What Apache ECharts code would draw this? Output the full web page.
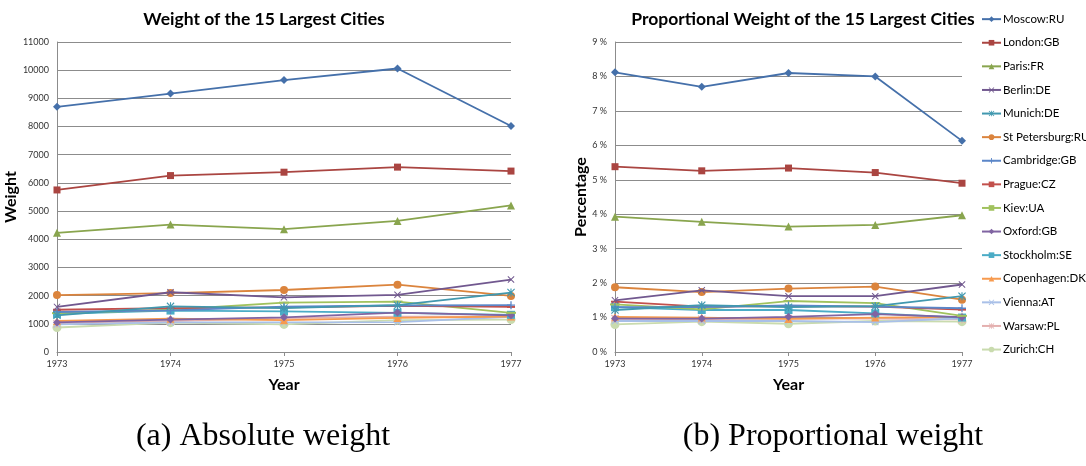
<!DOCTYPE html>
<html>
<head>
<meta charset="utf-8">
<script src="https://cdn.jsdelivr.net/npm/echarts@6/dist/echarts.min.js"></script>
<style>
html,body{margin:0;padding:0;background:#fff;}
#chart{width:1086px;height:466px;}
</style>
</head>
<body>
<div id="chart"></div>
<script>
// Years on the category axis
const years = ['1973', '1974', '1975', '1976', '1977'];

// City names (legend order)
const cities = ['Moscow:RU', 'London:GB', 'Paris:FR', 'Berlin:DE', 'Munich:DE', 'St Petersburg:RU',
  'Cambridge:GB', 'Prague:CZ', 'Kiev:UA', 'Oxford:GB', 'Stockholm:SE', 'Copenhagen:DK',
  'Vienna:AT', 'Warsaw:PL', 'Zurich:CH'];

// Absolute weight per city, 1973..1977
const weightMoscow     = [8700, 9170, 9650, 10060, 8020];
const weightLondon     = [5750, 6260, 6380, 6560, 6420];
const weightParis      = [4230, 4520, 4360, 4650, 5200];
const weightBerlin     = [1600, 2120, 1940, 2030, 2570];
const weightMunich     = [1300, 1620, 1560, 1660, 2110];
const weightStPete     = [2020, 2090, 2200, 2390, 1990];
const weightCambridge  = [1420, 1480, 1610, 1650, 1660];
const weightPrague     = [1500, 1560, 1580, 1640, 1600];
const weightKiev       = [1380, 1500, 1750, 1790, 1390];
const weightOxford     = [1050, 1150, 1230, 1400, 1300];
const weightStockholm  = [1350, 1470, 1440, 1390, 1320];
const weightCopenhagen = [1100, 1180, 1130, 1210, 1260];
const weightVienna     = [980, 1050, 1050, 1060, 1250];
const weightWarsaw     = [1000, 1100, 1200, 1250, 1250];
const weightZurich     = [870, 1040, 980, 1130, 1150];

// Proportional weight per city (percent), 1973..1977
const shareMoscow     = [8.12, 7.70, 8.10, 8.00, 6.13];
const shareLondon     = [5.38, 5.26, 5.34, 5.21, 4.90];
const shareParis      = [3.93, 3.78, 3.64, 3.69, 3.97];
const shareBerlin     = [1.50, 1.79, 1.62, 1.62, 1.96];
const shareMunich     = [1.22, 1.36, 1.30, 1.33, 1.62];
const shareStPete     = [1.88, 1.74, 1.84, 1.90, 1.52];
const shareCambridge  = [1.30, 1.30, 1.35, 1.32, 1.27];
const sharePrague     = [1.46, 1.32, 1.33, 1.32, 1.23];
const shareKiev       = [1.38, 1.24, 1.48, 1.42, 1.05];
const shareOxford     = [0.97, 0.97, 1.02, 1.10, 1.01];
const shareStockholm  = [1.30, 1.22, 1.22, 1.12, 1.00];
const shareCopenhagen = [1.02, 1.00, 0.96, 1.00, 1.02];
const shareVienna     = [0.90, 0.90, 0.90, 0.87, 0.98];
const shareWarsaw     = [0.97, 0.95, 0.97, 0.97, 0.95];
const shareZurich     = [0.80, 0.88, 0.82, 0.90, 0.88];

const weights = [weightMoscow, weightLondon, weightParis, weightBerlin, weightMunich, weightStPete,
  weightCambridge, weightPrague, weightKiev, weightOxford, weightStockholm, weightCopenhagen,
  weightVienna, weightWarsaw, weightZurich];
const shares = [shareMoscow, shareLondon, shareParis, shareBerlin, shareMunich, shareStPete,
  shareCambridge, sharePrague, shareKiev, shareOxford, shareStockholm, shareCopenhagen,
  shareVienna, shareWarsaw, shareZurich];

// Marker shapes
const X_PATH = 'path://M0,1L1,0L5,4L9,0L10,1L6,5L10,9L9,10L5,6L1,10L0,9L4,5Z';
const STAR_PATH = 'path://M0,1L1,0L4.3,3.3L4.3,0L5.7,0L5.7,3.3L9,0L10,1L6,5L10,9L9,10L5.7,6.7L5.7,10L4.3,10L4.3,6.7L1,10L0,9L4,5Z';
const PLUS_PATH = 'path://M4.2,0L5.8,0L5.8,4.2L10,4.2L10,5.8L5.8,5.8L5.8,10L4.2,10L4.2,5.8L0,5.8L0,4.2L4.2,4.2Z';

const styles = [
  { color: '#4570AA', symbol: 'diamond', size: 8 },
  { color: '#AA4541', symbol: 'rect', size: 7 },
  { color: '#89A54E', symbol: 'triangle', size: 8 },
  { color: '#71588F', symbol: X_PATH, size: 7 },
  { color: '#4198AF', symbol: STAR_PATH, size: 8 },
  { color: '#DB843D', symbol: 'circle', size: 8 },
  { color: '#5B86C8', symbol: PLUS_PATH, size: 8 },
  { color: '#C2504C', symbol: 'rect', size: [8, 2] },
  { color: '#A1C25E', symbol: 'rect', size: [10, 2] },
  { color: '#8064A2', symbol: 'diamond', size: 8 },
  { color: '#4BACC6', symbol: 'rect', size: 8 },
  { color: '#F79A4E', symbol: 'triangle', size: 8 },
  { color: '#A9C0E8', symbol: X_PATH, size: 7 },
  { color: '#E4B0AF', symbol: STAR_PATH, size: 8 },
  { color: '#C9DBAE', symbol: 'circle', size: 9 }
];

const uiFont = 'Lato, "Liberation Sans", sans-serif';
const series = [];
function addSeries(values, axisIdx) {
  values.forEach((vals, i) => {
    const s = styles[i];
    series.push({
      name: cities[i],
      type: 'line',
      xAxisIndex: axisIdx,
      yAxisIndex: axisIdx,
      data: vals,
      symbol: s.symbol,
      symbolSize: s.size,
      showAllSymbol: true,
      lineStyle: { color: s.color, width: 1.8 },
      itemStyle: { color: s.color },
      emphasis: { disabled: true },
      animation: false,
      z: 30 - i
    });
  });
}
addSeries(weights, 0);
addSeries(shares, 1);

const gridLine = { show: true, lineStyle: { color: '#8C8C8C', width: 1 } };
const axisLabelStyle = { fontFamily: uiFont, fontSize: 9, color: '#333' };
const axisNameStyle = { fontFamily: uiFont, fontSize: 16, fontWeight: 'bold', color: '#000' };

const option = {
  backgroundColor: '#fff',
  animation: false,
  grid: [
    { left: 57, top: 42, width: 454, height: 310 },
    { left: 615, top: 42, width: 347, height: 310 }
  ],
  xAxis: [0, 1].map(i => ({
    type: 'category',
    gridIndex: i,
    data: years,
    boundaryGap: false,
    name: 'Year',
    nameLocation: 'middle',
    nameGap: 25,
    nameTextStyle: axisNameStyle,
    axisLine: { lineStyle: { color: '#8C8C8C' } },
    axisTick: { show: true, length: 4, lineStyle: { color: '#8C8C8C' } },
    axisLabel: Object.assign({ margin: 8 }, axisLabelStyle)
  })),
  yAxis: [
    {
      type: 'value', gridIndex: 0, min: 0, max: 11000, interval: 1000,
      name: 'Weight', nameLocation: 'middle', nameGap: 32, nameTextStyle: axisNameStyle,
      axisLine: { show: true, lineStyle: { color: '#8C8C8C' } },
      axisTick: { show: false },
      splitLine: gridLine,
      axisLabel: Object.assign({ margin: 8, formatter: v => String(v) }, axisLabelStyle)
    },
    {
      type: 'value', gridIndex: 1, min: 0, max: 9, interval: 1,
      name: 'Percentage', nameLocation: 'middle', nameGap: 21, nameTextStyle: axisNameStyle,
      axisLine: { show: true, lineStyle: { color: '#8C8C8C' } },
      axisTick: { show: false },
      splitLine: gridLine,
      axisLabel: Object.assign({ margin: 8, formatter: '{value} %' }, axisLabelStyle)
    }
  ],
  legend: {
    data: cities,
    orient: 'vertical',
    left: 976,
    top: 7,
    itemGap: 9.3,
    itemWidth: 19,
    itemHeight: 7,
    textStyle: { fontFamily: uiFont, fontSize: 11.5, lineHeight: 14.3, color: '#000', padding: [0, 0, 0, -3] },
    selectedMode: false
  },
  graphic: [
    { type: 'text', x: 264, y: 19, style: { text: 'Weight of the 15 Largest Cities', font: 'bold 17.5px ' + uiFont, fill: '#000', textAlign: 'center', textVerticalAlign: 'middle' } },
    { type: 'text', x: 803, y: 19, style: { text: 'Proportional Weight of the 15 Largest Cities', font: 'bold 17.5px ' + uiFont, fill: '#000', textAlign: 'center', textVerticalAlign: 'middle' } },
    { type: 'text', x: 263, y: 437, style: { text: '(a) Absolute weight', font: '32px "Liberation Serif", serif', fill: '#000', textAlign: 'center', textVerticalAlign: 'middle' } },
    { type: 'text', x: 833, y: 437, style: { text: '(b) Proportional weight', font: '32px "Liberation Serif", serif', fill: '#000', textAlign: 'center', textVerticalAlign: 'middle' } }
  ],
  series: series
};

const chart = echarts.init(document.getElementById('chart'), null, { renderer: 'canvas' });
chart.setOption(option);
</script>
</body>
</html>
